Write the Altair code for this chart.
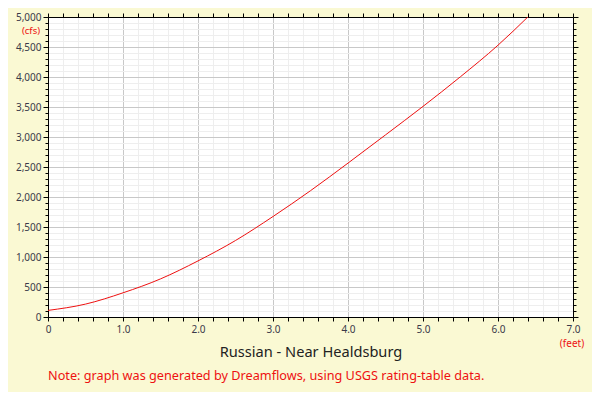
import altair as alt
import pandas as pd

# Data
stage_ft = [0.0, 0.5, 1.0, 1.5, 2.0, 2.5, 3.0, 3.5, 4.0, 4.5, 5.0, 5.5, 6.0, 6.4]
flow_cfs = [110, 215, 403, 635, 935, 1275, 1675, 2105, 2565, 3035, 3510, 4005, 4530, 5003]
x_ticks = [round(i * 0.2, 1) for i in range(36)]
y_ticks = list(range(0, 5001, 100))

title_text = "Russian - Near Healdsburg"
note_text = "Note: graph was generated by Dreamflows, using USGS rating-table data."
y_unit = "(cfs)"
x_unit = "(feet)"

FONT = "Noto Sans"
LABEL_COLOR = "#3a3a4a"
RED = "#EE1111"

df = pd.DataFrame({"stage": stage_ft, "flow": flow_cfs})

xscale = alt.Scale(domain=[0, 7], nice=False, zero=False)
yscale = alt.Scale(domain=[0, 5000], nice=False)

grid_x = {"condition": {"test": "datum.value % 1 == 0", "value": "#c8c8c8"}, "value": "#eeeeee"}
grid_y = {"condition": {"test": "datum.value % 500 == 0", "value": "#c8c8c8"}, "value": "#eeeeee"}
tick_y = {"condition": {"test": "datum.value % 500 == 0", "value": 5}, "value": 3}

line = alt.Chart(df).mark_line(color=RED, strokeWidth=1, clip=True, interpolate="monotone").encode(
    x=alt.X(
        "stage:Q",
        scale=xscale,
        axis=alt.Axis(
            orient="bottom",
            values=x_ticks,
            labelExpr="datum.value == 0 ? '0' : (datum.value % 1 == 0 ? format(datum.value, '.1f') : '')",
            labelOverlap=False,
            labelFlush=False,
            grid=True,
            gridColor=grid_x,
            gridWidth=1,
            tickSize=4,
            tickColor="black",
            domainColor="black",
            labelFont=FONT,
            labelFontSize=10,
            labelColor=LABEL_COLOR,
            labelPadding=3,
            title=title_text,
            titleFont=FONT,
            titleFontSize=14.6,
            titleFontWeight="normal",
            titleColor="#222222",
            titlePadding=10,
        ),
    ),
    y=alt.Y(
        "flow:Q",
        scale=yscale,
        axis=alt.Axis(
            orient="left",
            values=y_ticks,
            labelExpr="datum.value % 500 == 0 ? format(datum.value, ',d') : ''",
            labelOverlap=False,
            labelFlush=False,
            grid=True,
            gridColor=grid_y,
            gridWidth=1,
            tickSize=tick_y,
            tickColor="black",
            domainColor="black",
            labelFont=FONT,
            labelFontSize=10,
            labelColor=LABEL_COLOR,
            labelPadding=2,
            title=None,
        ),
    ),
)

frame = alt.Chart(df).mark_point(opacity=0).encode(
    x=alt.X(
        "stage:Q",
        scale=xscale,
        axis=alt.Axis(orient="top", values=x_ticks, labels=False, grid=False,
                      tickSize=4, tickColor="black", domainColor="black", title=None),
    ),
    y=alt.Y(
        "flow:Q",
        scale=yscale,
        axis=alt.Axis(orient="right", values=y_ticks, labels=False, grid=False,
                      tickSize=tick_y, tickColor="black", domainColor="black", title=None),
    ),
)

cfs = alt.Chart(pd.DataFrame({"t": [y_unit]})).mark_text(
    font=FONT, fontSize=9.5, color=RED, align="center", baseline="middle"
).encode(text="t:N", x=alt.value(-17), y=alt.value(14))

feet = alt.Chart(pd.DataFrame({"t": [x_unit]})).mark_text(
    font=FONT, fontSize=10, color=RED, align="center", baseline="middle"
).encode(text="t:N", x=alt.value(524), y=alt.value(327))

note = alt.Chart(pd.DataFrame({"t": [note_text]})).mark_text(
    font=FONT, fontSize=12.7, color=RED, align="left", baseline="middle"
).encode(text="t:N", x=alt.value(0), y=alt.value(359))

chart = (
    alt.layer(line, frame, cfs, feet, note)
    .resolve_axis(x="independent", y="independent")
    .properties(
        width=525,
        height=300,
        autosize=alt.AutoSizeParams(type="none"),
        padding={"left": 40, "top": 9, "right": 19, "bottom": 75},
        background="#FAF9D3",
    )
    .configure_view(fill="white", stroke=None)
)

chart.save("out.html", embed_options={"renderer": "svg", "actions": False})
